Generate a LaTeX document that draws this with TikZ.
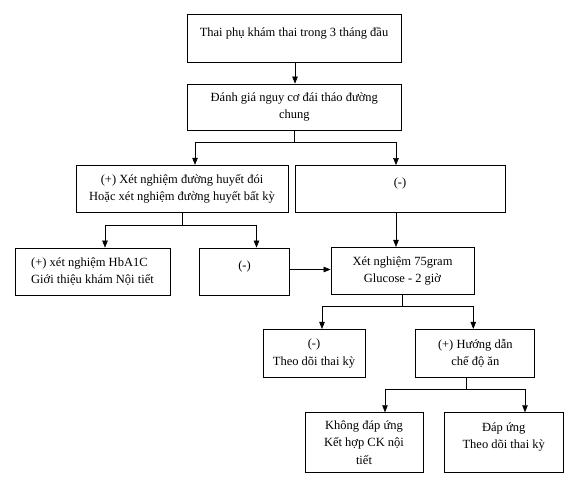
\documentclass[tikz,border=0pt]{standalone}
\usepackage{fontspec}
\setmainfont{Liberation Serif}
\usetikzlibrary{arrows.meta}

\tikzset{every picture/.style={line width=0.6pt}}
\tikzset{
  box/.style={draw, line width=0.8pt, inner sep=2pt, align=center,
    font=\fontsize{12.5}{17.5}\selectfont},
  lift/.style={text depth=#1},
  arr/.style={-{Triangle[length=7pt,width=5.5pt]}}
}

\begin{document}
\begin{tikzpicture}[x=1pt,y=1pt,yscale=-1,xscale=1]
    \useasboundingbox (0,0) rectangle (576,487);

    %Shape: boxes
    \node[box, lift=12pt, minimum width=214, minimum height=48] (visit) at (294,38) {Thai phụ khám thai trong 3 tháng đầu};
    \node[box, minimum width=214, minimum height=46] (assess) at (294.3,107) {Đánh giá nguy cơ đái tháo đường\\chung};
    \node[box, minimum width=212, minimum height=47] (fasting) at (182,188.7) {(+) Xét nghiệm đường huyết đói\\Hoặc xét nghiệm đường huyết bất kỳ};
    \node[box, lift=13pt, minimum width=210, minimum height=47] (neg) at (400,189) {(-)};
    \node[box, minimum width=155, minimum height=47, align=left] (hba) at (92.5,271.5) {(+) xét nghiệm HbA1C\\Giới thiệu khám Nội tiết};
    \node[box, lift=12pt, minimum width=90, minimum height=47] (negb) at (244.5,271.5) {(-)};
    \node[box, minimum width=143, minimum height=47] (ogtt) at (402.5,270.8) {Xét nghiệm 75gram\\Glucose - 2 giờ};
    \node[box, minimum width=102, minimum height=48] (follow) at (314,353.3) {(-)\\Theo dõi thai kỳ};
    \node[box, minimum width=119, minimum height=48] (diet) at (475.3,353.3) {(+) Hướng dẫn\\chế độ ăn};
    \node[box, minimum width=118, minimum height=60] (fail) at (364,442.7) {Không đáp ứng\\Kết hợp CK nội\\tiết};
    \node[box, lift=14pt, minimum width=119, minimum height=60] (ok) at (503.7,442.7) {Đáp ứng\\Theo dõi thai kỳ};

    %Straight Lines
    \draw[arr] ([xshift=1]visit.south) -- ([xshift=1]visit.south |- assess.north);
    \draw[arr] (assess.south) -- ++(0,12) -| ([xshift=13]fasting.north);
    \draw[arr] (assess.south) -- ++(0,12) -| ([xshift=-4]neg.north);
    \draw[arr] (fasting.south) -- ++(0,12.7) -| ([xshift=12.5]hba.north);
    \draw[arr] (fasting.south) -- ++(0,12.7) -| ([xshift=12]negb.north);
    \draw[arr] ([xshift=-4]neg.south) -- ([xshift=-4]neg.south |- ogtt.north);
    \draw[arr] ([yshift=-2]negb.east) -- ([yshift=-2]negb.east -| ogtt.west);
    \draw[arr] (ogtt.south) -- ++(0,11.5) -| ([xshift=8]follow.north);
    \draw[arr] (ogtt.south) -- ++(0,11.5) -| ([xshift=-2]diet.north);
    \draw[arr] ([xshift=-8.6]diet.south) -- ++(0,11.7) -| ([xshift=21]fail.north);
    \draw[arr] ([xshift=-8.6]diet.south) -- ++(0,11.7) -| ([xshift=21.3]ok.north);

\end{tikzpicture}
\end{document}
